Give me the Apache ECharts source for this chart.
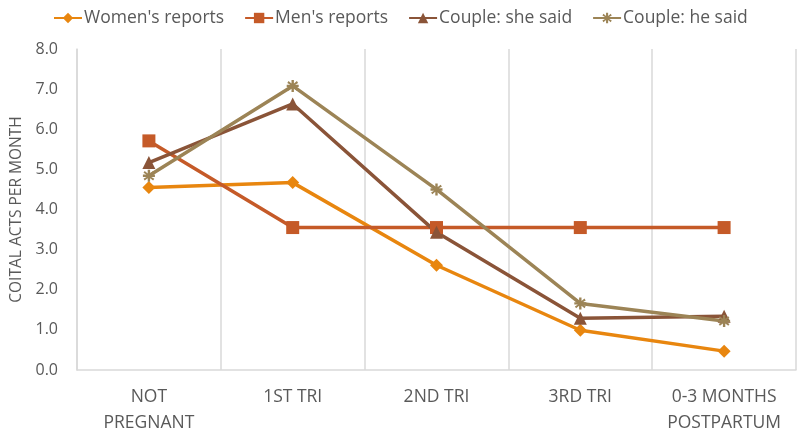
<!DOCTYPE html>
<html>
<head>
<meta charset="utf-8">
<script src="https://cdn.jsdelivr.net/npm/echarts@6/dist/echarts.min.js"></script>
<style>html,body{margin:0;padding:0;background:#fff}#c{width:800px;height:436px}</style>
</head>
<body>
<div id="c"></div>
<script>
var categories = ['NOT\nPREGNANT', '1ST TRI', '2ND TRI', '3RD TRI', '0-3 MONTHS\nPOSTPARTUM'];
var womens = [4.55, 4.67, 2.61, 0.99, 0.47];
var mens = [5.71, 3.55, 3.55, 3.55, 3.55];
var sheSaid = [5.17, 6.63, 3.43, 1.29, 1.34];
var heSaid = [4.84, 7.08, 4.50, 1.66, 1.22];
var seriesNames = ["Women's reports", "Men's reports", 'Couple: she said', 'Couple: he said'];

var chart = echarts.init(document.getElementById('c'));
var font = 'Open Sans';
function mk(name, data, color, symbol, size) {
  return {
    name: name, type: 'line', data: data, symbol: symbol, symbolSize: size,
    lineStyle: {color: color, width: 3.5}, itemStyle: {color: color},
    emphasis: {disabled: true}
  };
}
var star = 'path://M4,0 L6,0 L6,3 L8.5,1 L9.5,2.5 L7,4 L10,4 L10,6 L7,6 L9.5,7.5 L8.5,9 L6,7 L6,10 L4,10 L4,7 L1.5,9 L0.5,7.5 L3,6 L0,6 L0,4 L3,4 L0.5,2.5 L1.5,1 L4,3 Z';
chart.setOption({
  animation: false,
  textStyle: {fontFamily: font},
  legend: {
    top: 4, left: 48, itemGap: 20, itemWidth: 28, itemHeight: 13,
    textStyle: {fontSize: 17.5, color: '#595959', fontFamily: font, padding: [0,0,0,-3]},
    data: seriesNames
  },
  grid: {left: 77, right: 4, top: 49, bottom: 65},
  xAxis: {
    type: 'category', data: categories, boundaryGap: true,
    axisLine: {lineStyle: {color: '#d9d9d9', width: 1.5}},
    axisTick: {show: false},
    splitLine: {show: true, interval: 0, lineStyle: {color: '#d9d9d9', width: 1.5}},
    axisLabel: {interval: 0, hideOverlap: false, color: '#595959', fontSize: 17.5, lineHeight: 26, margin: 14, fontFamily: font}
  },
  yAxis: {
    type: 'value', min: 0, max: 8, interval: 1,
    name: 'COITAL ACTS PER MONTH', nameLocation: 'middle', nameGap: 50,
    nameTextStyle: {color: '#595959', fontSize: 15.5, fontFamily: font},
    axisLine: {show: true, lineStyle: {color: '#d9d9d9', width: 1.5}},
    axisTick: {show: false},
    splitLine: {show: false},
    axisLabel: {color: '#595959', fontSize: 16, margin: 19, formatter: function (v) { return v.toFixed(1); }}
  },
  series: [
    mk(seriesNames[0], womens, '#E8860F', 'diamond', 13),
    mk(seriesNames[1], mens, '#C55A28', 'rect', 13),
    mk(seriesNames[2], sheSaid, '#8A5438', 'triangle', 13),
    mk(seriesNames[3], heSaid, '#9C8456', star, 12)
  ]
});
</script>
</body>
</html>
